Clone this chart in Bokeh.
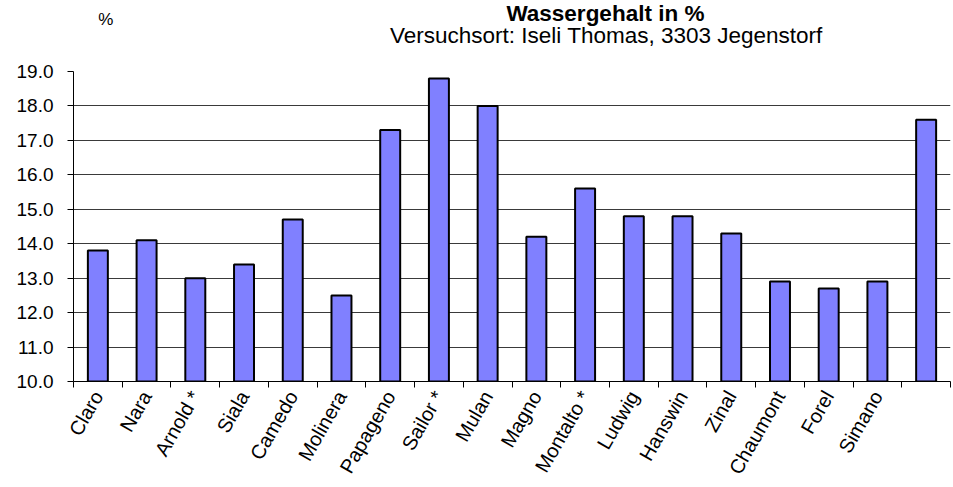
from bokeh.plotting import figure
from bokeh.layouts import column
from bokeh.models import ColumnDataSource, FixedTicker, NumeralTickFormatter, Label, Range1d
from bokeh.embed import file_html
from bokeh.resources import INLINE

# ---- data ----
categories = ["Claro", "Nara", "Arnold *", "Siala", "Camedo", "Molinera", "Papageno",
              "Sailor *", "Mulan", "Magno", "Montalto *", "Ludwig", "Hanswin", "Zinal",
              "Chaumont", "Forel", "Simano", ""]
values = [13.8, 14.1, 13.0, 13.4, 14.7, 12.5, 17.3, 18.8, 18.0, 14.2, 15.6, 14.8,
          14.8, 14.3, 12.9, 12.7, 12.9, 17.6]
y_ticks = [10, 11, 12, 13, 14, 15, 16, 17, 18, 19]
title_text = "Wassergehalt in %"
subtitle_text = "Versuchsort: Iseli Thomas, 3303 Jegenstorf"
unit_text = "%"

FONT = "Liberation Sans"
W = 953
HEAD_H = 55

# ---- header with titles ----
head = figure(width=W, height=HEAD_H, output_backend="svg", toolbar_location=None,
              x_range=Range1d(0, W), y_range=Range1d(HEAD_H, 0),
              x_axis_type=None, y_axis_type=None, min_border=0)
head.outline_line_color = None
head.grid.visible = False
head.add_layout(Label(x=578, y=13, text=title_text, text_font=FONT,
                      text_font_size="22.5px", text_font_style="bold",
                      text_align="center", text_baseline="alphabetic", text_color="black"))
head.add_layout(Label(x=579, y=35, text=subtitle_text, text_font=FONT,
                      text_font_size="22.5px",
                      text_align="center", text_baseline="alphabetic", text_color="black"))
head.add_layout(Label(x=35, y=19, text=unit_text, text_font=FONT,
                      text_font_size="17px",
                      text_align="center", text_baseline="alphabetic", text_color="black"))

# ---- main chart ----
n = len(categories)
xs = list(range(1, n + 1))
src = ColumnDataSource(dict(x=xs, top=values, cat=categories))

fig = figure(width=W, height=487 - HEAD_H, output_backend="svg", toolbar_location=None,
             x_range=Range1d(0.5, n + 0.5), y_range=Range1d(y_ticks[0], y_ticks[-1]),
             min_border_left=73, min_border_right=3, min_border_top=16, min_border_bottom=106)
fig.outline_line_color = None

fig.vbar(x="x", top="top", bottom=y_ticks[0], width=0.41, source=src,
         fill_color="#8080ff", line_color="black", line_width=2)

fig.yaxis.ticker = FixedTicker(ticks=y_ticks, minor_ticks=[])
fig.yaxis.formatter = NumeralTickFormatter(format="0.0")
fig.yaxis.major_label_text_font = FONT
fig.yaxis.major_label_text_font_size = "19px"
fig.yaxis.major_label_text_color = "black"
fig.yaxis.major_tick_out = 6
fig.yaxis.major_tick_in = 0
fig.yaxis.major_label_standoff = 14
fig.yaxis.axis_line_color = "black"
fig.yaxis.major_tick_line_color = "black"

fig.xaxis.ticker = FixedTicker(ticks=xs, minor_ticks=[x - 0.5 for x in xs] + [n + 0.5])
fig.xaxis.major_label_overrides = {x: c for x, c in zip(xs, categories)}
fig.xaxis.major_tick_out = 0
fig.xaxis.major_tick_in = 0
fig.xaxis.minor_tick_out = 6
fig.xaxis.minor_tick_in = 0
fig.xaxis.minor_tick_line_color = "black"
fig.xaxis.axis_line_color = "black"
fig.xaxis.major_label_orientation = 1.05
fig.xaxis.major_label_text_font = FONT
fig.xaxis.major_label_text_font_size = "20px"
fig.xaxis.major_label_text_color = "black"
fig.xaxis.major_label_standoff = 5

fig.xgrid.grid_line_color = None
fig.ygrid.ticker = FixedTicker(ticks=y_ticks)
fig.ygrid.grid_line_color = "#3a3a3a"
fig.ygrid.grid_line_width = 1

p = column(head, fig, spacing=0)
open("out.html", "w").write(file_html(p, INLINE))
